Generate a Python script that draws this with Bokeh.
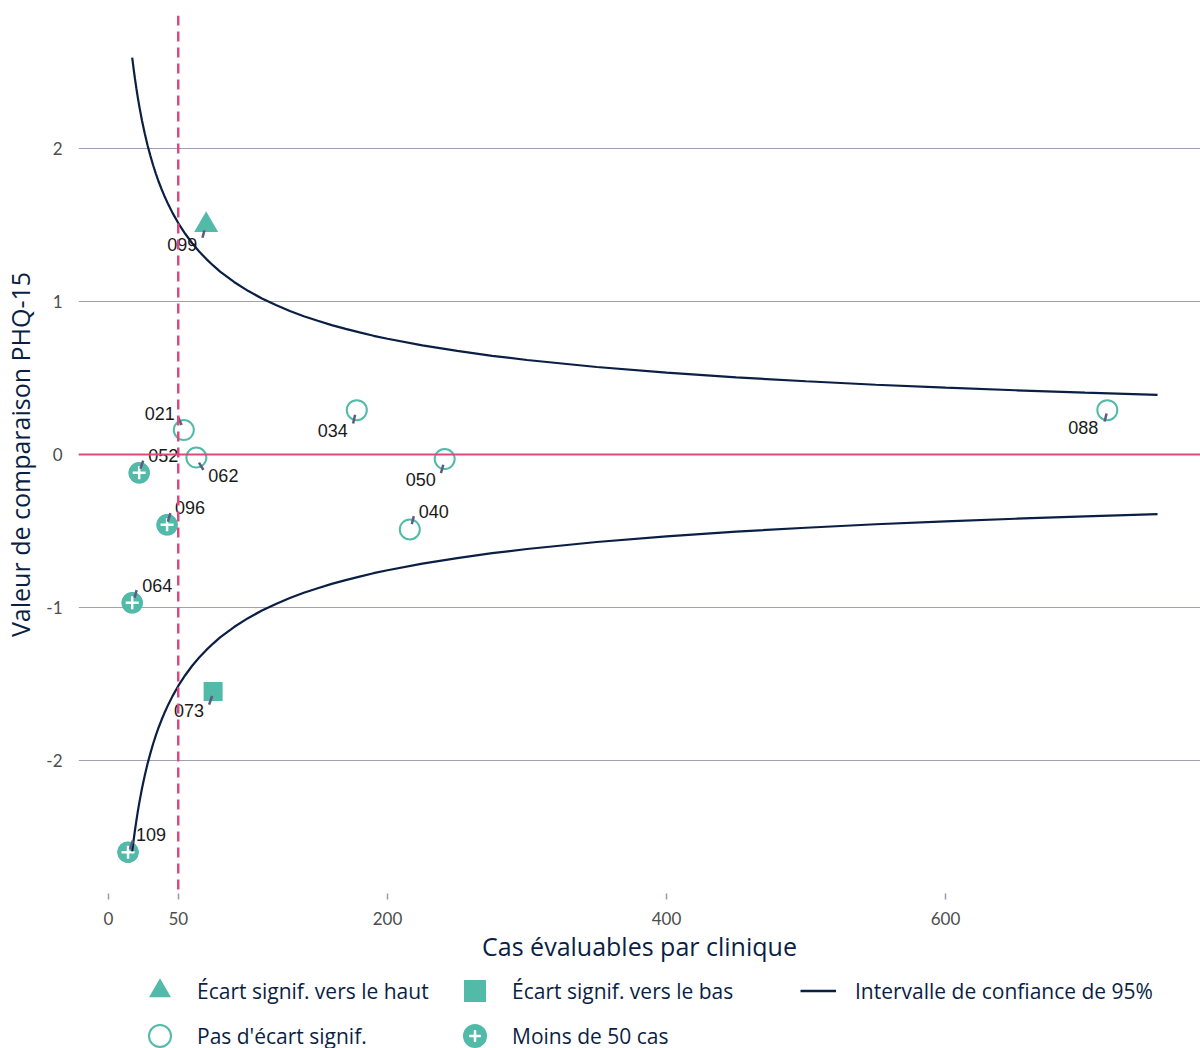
from bokeh.plotting import figure
from bokeh.layouts import column
from bokeh.models import Range1d, FixedTicker, Span, Legend, LegendItem, ColumnDataSource
from bokeh.embed import file_html
from bokeh.resources import INLINE
from bokeh.core.properties import value

# ---------------- data ----------------
clinic_ids = ["099", "073", "021", "062", "034", "050", "040", "088", "052", "096", "064", "109"]
cases = [70, 75, 54, 63, 178, 241, 216, 716, 22, 42, 17, 14]
scores = [1.50, -1.55, 0.16, -0.02, 0.29, -0.03, -0.49, 0.29, -0.12, -0.46, -0.97, -2.60]
groups = ["haut", "bas", "ns", "ns", "ns", "ns", "ns", "ns", "moins50", "moins50", "moins50", "moins50"]

ci_n = [17, 18, 19, 20, 21, 22, 24, 26, 28, 30, 32, 34, 36, 38, 40, 43, 46, 50, 55, 60, 65, 70,
        75, 80, 90, 100, 110, 120, 130, 140, 150, 160, 170, 180, 190, 200, 225, 250, 275, 300,
        350, 400, 450, 500, 550, 600, 650, 700, 752]
ci_upper = [2.595, 2.522, 2.455, 2.393, 2.335, 2.281, 2.184, 2.098, 2.022, 1.954, 1.891, 1.835,
            1.783, 1.736, 1.692, 1.632, 1.578, 1.513, 1.443, 1.381, 1.327, 1.279, 1.236, 1.196,
            1.128, 1.070, 1.020, 0.977, 0.938, 0.904, 0.874, 0.846, 0.821, 0.798, 0.776, 0.757,
            0.713, 0.677, 0.645, 0.618, 0.572, 0.535, 0.504, 0.479, 0.456, 0.437, 0.420, 0.404,
            0.390]
ci_lower = [-v for v in ci_upper]

x_ticks = [0, 50, 200, 400, 600]
y_ticks = [-2, -1, 0, 1, 2]
threshold_cases = 50

legend_labels = ["Écart signif. vers le haut", "Écart signif. vers le bas",
                 "Intervalle de confiance de 95%", "Pas d'écart signif.", "Moins de 50 cas"]

# ---------------- layout (screen px offsets for labels) ----------------
label_dx = [-24, -24, -24, 27, -24, -24, 24, -24, 24, 23, 25, 23]
label_dy = [19, 19, -17, 18, 20, 20, -18, 17, -17, -17, -17, -18]
seg_dx0 = [-1.7, -1.0, -5.7, 2.6, -1.7, -1.4, 4.0, -0.7, 4.0, 3.3, 4.4, 4.7]
seg_dy0 = [5.3, 4.4, -13.0, 5.0, 4.7, 5.7, -13.3, 3.4, -12.3, -11.7, -12.7, -11.6]
seg_dx1 = [-3.7, -4.0, -2.3, 7.0, -3.7, -3.7, 2.0, -2.7, 1.3, 0.7, 2.4, 2.0]
seg_dy1 = [12.7, 13.0, -5.0, 12.3, 13.4, 14.0, -5.3, 11.4, -4.3, -3.3, -5.3, -3.0]

TEAL = "#52BAA8"
NAVY = "#0B1F45"
PINK = "#DC4A7C"
GRID = "#A19EB8"
SEG = "#5E5A80"
FONT = "Lato"
TFONT = "Open Sans"

X0, X1 = -21.5, 782.8
Y0, Y1 = -2.87, 2.87
FW, FH = 1122, 878
XS = FW / (X1 - X0)
YS = FH / (Y1 - Y0)

p = figure(frame_width=FW, frame_height=FH, x_range=Range1d(X0, X1), y_range=Range1d(Y0, Y1),
           output_backend="svg", toolbar_location=None,
           min_border_left=78, min_border_right=0, min_border_top=15, min_border_bottom=75)
p.outline_line_color = None
p.background_fill_color = "white"
p.xgrid.grid_line_color = None
p.ygrid.grid_line_color = GRID
p.ygrid.grid_line_width = 1.2
p.ygrid.ticker = FixedTicker(ticks=y_ticks)

p.xaxis.ticker = FixedTicker(ticks=x_ticks)
p.yaxis.ticker = FixedTicker(ticks=y_ticks)
p.yaxis.major_label_overrides = {-2: "-2", -1: "-1"}
for ax in (p.xaxis, p.yaxis):
    ax.axis_line_color = None
    ax.minor_tick_line_color = None
    ax.major_label_text_font = FONT
    ax.major_label_text_font_size = "17px"
    ax.major_label_text_color = "#4d4d4d"
    ax.axis_label_text_font = TFONT
    ax.axis_label_text_font_size = "25px"
    ax.axis_label_text_font_style = "normal"
    ax.axis_label_text_color = NAVY
p.xaxis.major_tick_line_color = "#9a98b0"
p.xaxis.major_tick_line_width = 1.5
p.xaxis.major_tick_out = 6
p.xaxis.major_tick_in = 0
p.xaxis.major_label_standoff = 12
p.xaxis.axis_label_standoff = 1
p.yaxis.major_tick_line_color = None
p.yaxis.major_tick_out = 0
p.yaxis.major_tick_in = 0
p.yaxis.major_label_standoff = 16
p.yaxis.axis_label_standoff = 6
p.xaxis.axis_label = "Cas évaluables par clinique"
p.yaxis.axis_label = "Valeur de comparaison PHQ-15"

p.add_layout(Span(location=0, dimension="width", line_color=PINK, line_width=2))
p.add_layout(Span(location=threshold_cases, dimension="height", line_color=PINK,
                  line_width=2.5, line_dash="10 6"))

src = ColumnDataSource(dict(
    x=cases, y=scores, id=clinic_ids,
    dx=label_dx, dy=label_dy,
    sx0=[c + d / XS for c, d in zip(cases, seg_dx0)],
    sy0=[s - d / YS for s, d in zip(scores, seg_dy0)],
    sx1=[c + d / XS for c, d in zip(cases, seg_dx1)],
    sy1=[s - d / YS for s, d in zip(scores, seg_dy1)],
))


def subset(g):
    idx = [i for i, gg in enumerate(groups) if gg == g]
    return ColumnDataSource(dict(x=[cases[i] for i in idx], y=[scores[i] for i in idx]))


STY_HAUT = dict(marker="triangle", fill_color=TEAL, line_color=None)
STY_BAS = dict(marker="square", fill_color=TEAL, line_color=None)
STY_NS = dict(marker="circle", fill_color="white", line_color=TEAL, line_width=2)
STY_M1 = dict(marker="circle", fill_color=TEAL, line_color=None)
STY_M2 = dict(marker="cross", line_color="white", line_width=2.5)
STY_M3 = dict(marker="circle", fill_color=None, line_color=TEAL, line_width=2.5)

p.scatter("x", "y", source=subset("haut"), size=24, **STY_HAUT)
p.scatter("x", "y", source=subset("bas"), size=19, **STY_BAS)
p.scatter("x", "y", source=subset("ns"), size=20, **STY_NS)
m50 = subset("moins50")
p.scatter("x", "y", source=m50, size=21, **STY_M1)
p.scatter("x", "y", source=m50, size=13, **STY_M2)
p.scatter("x", "y", source=m50, size=19, **STY_M3)

p.line(ci_n, ci_upper, line_color=NAVY, line_width=2.2)
p.line(ci_n, ci_lower, line_color=NAVY, line_width=2.2)

p.segment(x0="sx0", y0="sy0", x1="sx1", y1="sy1", source=src, line_color=SEG, line_width=2.5)
p.text(x="x", y="y", text="id", source=src, x_offset="dx", y_offset="dy",
       text_font=value("Liberation Sans"), text_font_size="18px", text_color="#1a1a1a",
       text_align="center", text_baseline="middle")

# ---------------- legend strip ----------------
LW, LH = 1200, 80
lg = figure(frame_width=LW, frame_height=LH, x_range=Range1d(0, LW), y_range=Range1d(0, LH),
            output_backend="svg", toolbar_location=None, x_axis_type=None, y_axis_type=None,
            min_border_left=0, min_border_right=0, min_border_top=0, min_border_bottom=0)
lg.outline_line_color = None
lg.xgrid.grid_line_color = None
lg.ygrid.grid_line_color = None

off = dict(x=[-1000], y=[-1000])
d_haut = lg.scatter(source=ColumnDataSource(off), size=10, **STY_HAUT)
d_bas = lg.scatter(source=ColumnDataSource(off), size=10, **STY_BAS)
d_ns = lg.scatter(source=ColumnDataSource(off), size=10, **STY_NS)
d_m1 = lg.scatter(source=ColumnDataSource(off), size=10, **STY_M1)
d_m2 = lg.scatter(source=ColumnDataSource(off), size=10, **STY_M2)
d_m3 = lg.scatter(source=ColumnDataSource(off), size=10,
                  **dict(STY_M3, line_width=6))
d_ci = lg.line(source=ColumnDataSource(dict(x=[-1000, -999], y=[-1000, -1000])),
               line_color=NAVY, line_width=2.5)


def add_leg(label, rends, left, bottom, gw, gh, standoff):
    L = Legend(items=[LegendItem(label=label, renderers=rends)], location=(left, bottom),
               orientation="vertical", glyph_width=gw, glyph_height=gh, padding=0, margin=0,
               label_standoff=standoff, label_text_font=TFONT, label_text_font_size="21px",
               label_text_color=NAVY, border_line_color=None, background_fill_alpha=0,
               label_height=20)
    lg.add_layout(L, "center")


ROW1, ROW2 = 30, -15
add_leg(legend_labels[0], [d_haut], 132, ROW1, 55, 55, 10)
add_leg(legend_labels[1], [d_bas], 447, ROW1, 55, 55, 10)
add_leg(legend_labels[2], [d_ci], 800, ROW1, 36, 55, 19)
add_leg(legend_labels[3], [d_ns], 132, ROW2, 55, 55, 10)
add_leg(legend_labels[4], [d_m1, d_m2, d_m3], 452, -10, 45, 45, 15)

open("out.html", "w").write(file_html(column(p, lg, spacing=0), INLINE))
